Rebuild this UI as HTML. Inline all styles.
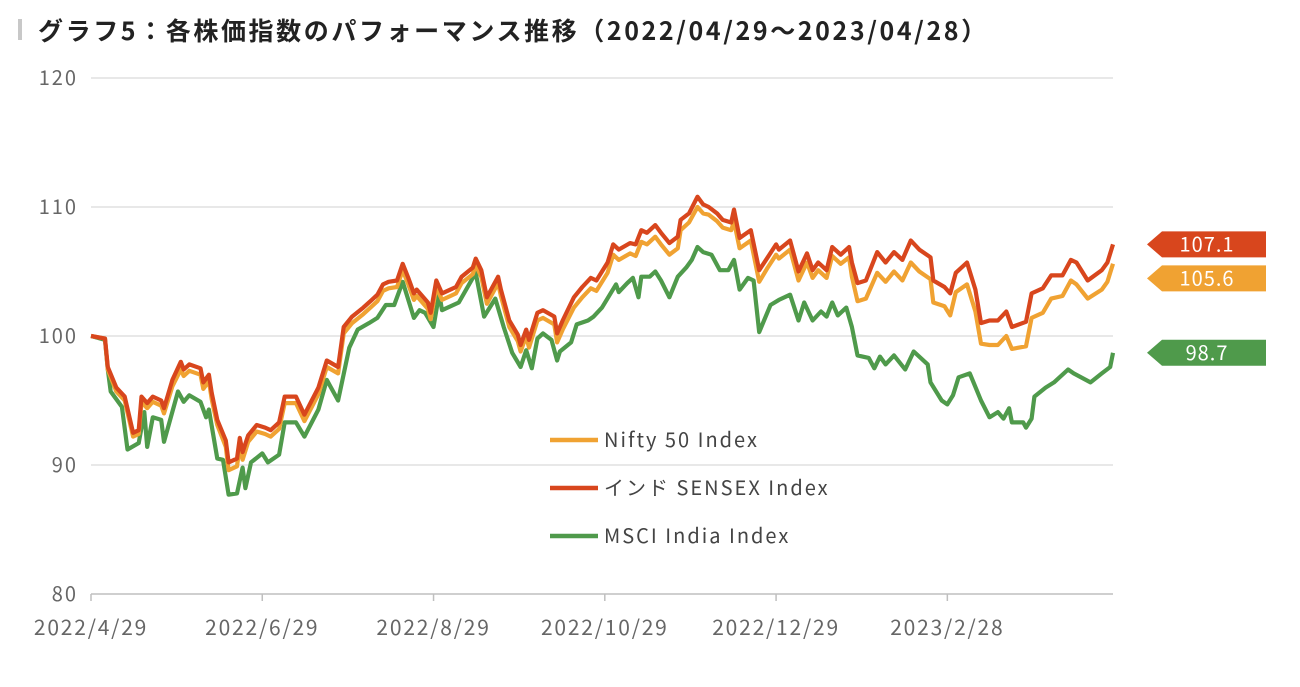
<!DOCTYPE html>
<html><head><meta charset="utf-8"><style>
body{margin:0;background:#fff;}
svg text{font-family:"Noto Sans CJK JP","Liberation Sans",sans-serif;}
</style></head><body>
<svg id="chart" width="1300" height="682" viewBox="0 0 1300 682" xmlns="http://www.w3.org/2000/svg">
<rect x="18" y="19" width="4" height="21" fill="#c8c8c8"/>
<text x="38" y="40" font-size="25" font-weight="bold" letter-spacing="2.6" fill="#222">グラフ5：各株価指数のパフォーマンス推移（2022/04/29～2023/04/28）</text>
<g id="grid"></g><g id="lines"></g><g id="legend"></g><g id="tags"></g>
</svg>
<script>
const yTicks=[80,90,100,110,120];
const xTickDays=[0,61,122,183,244,305];
const xTickLabels=["2022/4/29","2022/6/29","2022/8/29","2022/10/29","2022/12/29","2023/2/28"];
const seriesNames=["Nifty 50 Index","インド SENSEX Index","MSCI India Index"];
const daysA=[0,5,6,9,12,15,17,18,20,22,25,26,29,32,33,35,39,40,42,43,45,48,49,52,53,54,56,59,62,64,67,69,73,76,81,84,88,90,93,97,100,102,104,106,109,111,113,115,116,120,121,123,125,128,130,132,136,137,139,141,145,146,149,152,153,155,156,159,161,165,166,168,172,175,178,180,184,186,188,192,194,196,198,201,203,206,209,210,213,216,218,220,223,225,228,229,231,235,238,241,244,245,249,252,255,257,259,262,264,267,270,271,273,276,280,283,286,289,292,295,299,300,304,306,308,312,315,317,320,323,326,328,333,335,339,342,346,349,351,355,360,362,364];
const sensex=[100.0,99.8,97.6,96.0,95.3,92.5,92.7,95.3,94.8,95.3,95.0,94.4,96.6,98.0,97.4,97.8,97.5,96.4,97.0,95.6,93.5,91.9,90.2,90.5,92.1,91.0,92.3,93.1,92.9,92.7,93.3,95.3,95.3,93.9,96.0,98.1,97.6,100.7,101.5,102.2,102.8,103.2,104.0,104.2,104.3,105.6,104.5,103.3,103.6,102.6,101.8,104.3,103.3,103.6,103.8,104.6,105.3,106.0,105.1,103.0,104.6,103.6,101.2,100.1,99.3,100.5,99.7,101.8,102.0,101.5,100.2,101.2,103.0,103.8,104.5,104.3,105.7,107.1,106.7,107.2,107.1,108.2,108.0,108.6,108.0,107.2,107.7,109.0,109.5,110.8,110.2,110.0,109.5,109.0,108.8,109.8,107.6,108.2,105.1,106.1,107.1,106.7,107.4,105.0,106.4,105.1,105.7,105.1,106.9,106.3,106.9,105.7,104.1,104.3,106.5,105.7,106.5,105.9,107.4,106.7,106.1,104.3,103.8,103.3,104.9,105.7,103.6,101.0,101.2,101.2,101.9,100.7,101.1,103.3,103.7,104.7,104.7,105.9,105.7,104.3,105.1,105.7,107.1];
const nifty=[100.0,99.8,97.4,95.7,95.0,92.2,92.4,94.9,94.4,94.9,94.6,94.0,96.1,97.4,96.9,97.3,97.0,95.9,96.5,95.1,93.1,91.4,89.6,89.9,91.5,90.4,91.8,92.6,92.4,92.2,92.8,94.8,94.8,93.4,95.5,97.6,97.1,100.2,101.0,101.7,102.3,102.7,103.5,103.7,103.8,105.1,104.0,102.8,103.1,102.1,101.3,103.8,102.8,103.1,103.3,104.1,104.8,105.5,104.6,102.5,104.1,103.1,100.7,99.6,98.8,100.0,99.1,101.2,101.4,100.9,99.5,100.5,102.2,103.0,103.7,103.5,104.9,106.3,105.9,106.4,106.2,107.3,107.1,107.7,107.1,106.3,106.8,108.2,108.8,110.0,109.5,109.4,108.9,108.4,108.2,108.9,106.8,107.4,104.2,105.3,106.3,106.0,106.7,104.3,105.7,104.5,105.1,104.5,106.2,105.6,106.1,104.6,102.7,102.9,104.9,104.2,105.0,104.3,105.7,105.0,104.4,102.6,102.3,101.6,103.4,104.0,101.9,99.4,99.3,99.3,100.0,99.0,99.2,101.4,101.8,102.9,103.1,104.3,104.0,102.9,103.6,104.2,105.6];
const daysB=[0,5,6,7,11,13,17,19,20,22,25,26,31,33,35,39,41,42,45,47,49,52,54,55,57,61,63,67,69,73,76,81,84,88,92,95,99,102,105,108,111,115,117,119,122,124,125,131,137,140,144,147,150,153,155,157,159,161,164,166,167,171,173,177,179,182,187,188,191,193,195,196,199,201,203,206,209,212,214,216,218,221,224,227,229,231,234,236,238,242,245,249,252,254,257,260,262,264,266,269,271,273,277,279,281,283,286,290,293,298,299,303,305,307,309,313,317,320,323,325,327,328,332,333,335,336,340,343,348,350,356,360,363,364];
const msci=[100.0,99.7,97.4,95.7,94.5,91.2,91.7,94.1,91.4,93.7,93.5,91.8,95.7,94.9,95.4,94.9,93.7,94.3,90.5,90.4,87.7,87.8,89.8,88.2,90.2,90.9,90.2,90.8,93.3,93.3,92.2,94.3,96.6,95.0,99.1,100.5,101.0,101.4,102.4,102.4,104.2,101.4,102.0,101.8,100.7,103.3,102.0,102.6,104.9,101.5,102.9,100.7,98.7,97.6,98.9,97.5,99.8,100.2,99.7,98.1,98.8,99.5,100.9,101.2,101.5,102.2,104.0,103.4,104.1,104.5,103.0,104.6,104.6,105.0,104.3,103.0,104.6,105.3,105.9,106.9,106.5,106.3,105.1,105.1,105.9,103.6,104.5,104.3,100.3,102.4,102.8,103.2,101.2,102.6,101.2,101.9,101.5,102.6,101.6,102.2,100.7,98.5,98.3,97.5,98.4,97.8,98.5,97.4,98.8,97.8,96.4,95.0,94.7,95.4,96.8,97.1,95.0,93.7,94.1,93.6,94.4,93.3,93.3,92.9,93.6,95.3,96.0,96.4,97.4,97.1,96.4,97.1,97.6,98.7];
const tagValues=[105.6,107.1,98.7];
const colors=["#f0a232","#d8461d","#4f9a4b"];

const NS="http://www.w3.org/2000/svg";
const X0=91,X1=1113,Y0=594,Y1=78,DMAX=364,VMIN=80,VMAX=120;
const xs=d=>X0+(X1-X0)*d/DMAX;
const ys=v=>Y0-(Y0-Y1)*(v-VMIN)/(VMAX-VMIN);
function mk(tag,attrs,parent){const e=document.createElementNS(NS,tag);for(const k in attrs)e.setAttribute(k,attrs[k]);parent.appendChild(e);return e;}
const grid=document.getElementById('grid');
yTicks.forEach(t=>{
  if(t>VMIN){const l=mk('line',{x1:X0,x2:X1,y1:ys(t),y2:ys(t),stroke:'#d9d9d9','stroke-width':1.3},grid);
  
  }
  const tx=mk('text',{x:78,y:ys(t)+7,'text-anchor':'end','font-size':20,'letter-spacing':2,fill:'#666'},grid);
  tx.textContent=t;
  
  
});
const ax=mk('line',{x1:X0,x2:X1,y1:Y0,y2:Y0,stroke:'#bfbfbf','stroke-width':1.5},grid);


xTickDays.forEach((d,i)=>{
  const tk=mk('line',{x1:xs(d),x2:xs(d),y1:Y0,y2:Y0+7,stroke:'#bfbfbf','stroke-width':1.5},grid);
  
  
  const tx=mk('text',{x:xs(d),y:635,'text-anchor':'middle','font-size':21,'letter-spacing':1.8,fill:'#666'},grid);
  tx.textContent=xTickLabels[i];
  
  
});
const lines=document.getElementById('lines');
const sets=[[daysA,nifty],[daysA,sensex],[daysB,msci]];
const order=[2,0,1];
order.forEach(i=>{
  const [ds,vs]=sets[i];
  const p=mk('polyline',{points:vs.map((v,j)=>xs(ds[j]).toFixed(1)+','+ys(v).toFixed(1)).join(' '),fill:'none',stroke:colors[i],'stroke-width':4.2,'stroke-linejoin':'round'},lines);
  
  
});
const lg=document.getElementById('legend');
seriesNames.forEach((n,i)=>{
  const y=440+i*48;
  const l=mk('line',{x1:550,x2:598,y1:y,y2:y,stroke:colors[i],'stroke-width':4.5},lg);
  
  
  const t=mk('text',{x:604,y:y+7,'font-size':20,'letter-spacing':2,fill:'#444'},lg);
  t.textContent=n;
  
  
});
const tg=document.getElementById('tags');
const tagY=tagValues.map(v=>ys(v));
if(tagY[0]-tagY[1]<34)tagY[0]=tagY[1]+34;
tagValues.forEach((v,i)=>{
  const y=tagY[i];
  const p=mk('polygon',{points:`1147,${y} 1162,${y-13} 1266,${y-13} 1266,${y+13} 1162,${y+13}`,fill:colors[i]},tg);
  
  
  const t=mk('text',{x:1207,y:y+7,'text-anchor':'middle','font-size':20,'letter-spacing':1,fill:'#fff'},tg);
  t.textContent=v.toFixed(1);
  
  
});
</script>
</body></html>
